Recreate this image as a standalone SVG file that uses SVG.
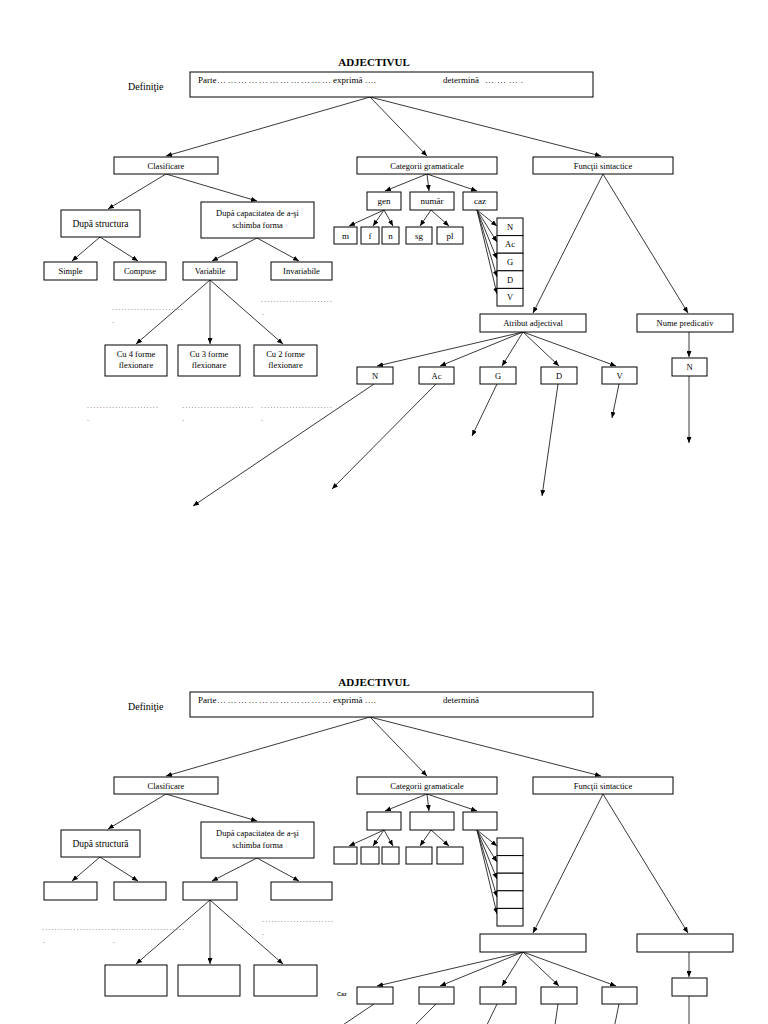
<svg xmlns="http://www.w3.org/2000/svg" width="768" height="1024" viewBox="0 0 768 1024">
<defs>
<style>
.b{fill:#fff;stroke:#000;stroke-width:1}
.t{font-family:"Liberation Serif","Times New Roman",serif;font-size:8.5px;fill:#000;text-anchor:middle}
.s{font-size:9px}
.m{font-size:9.5px}
.l{font-family:"Liberation Serif","Times New Roman",serif;font-size:9px;fill:#000}
.h{font-family:"Liberation Serif","Times New Roman",serif;font-size:11px;font-weight:bold;fill:#000;text-anchor:middle}
.dt{font-family:"Liberation Serif","Times New Roman",serif;font-size:8px;fill:#666}
.cz{font-family:"Liberation Sans",Arial,sans-serif;font-size:5.5px;font-weight:bold;fill:#333}
.c{stroke:#222;stroke-width:0.9;fill:none;marker-end:url(#ah)}
</style>
<marker id="ah" viewBox="0 0 12 10" refX="12" refY="5" markerWidth="6" markerHeight="5" markerUnits="userSpaceOnUse" orient="auto">
<path d="M0,0 L12,5 L0,10 z" fill="#000"/>
</marker>
</defs>
<rect width="768" height="1024" fill="#fff"/>

<!-- ========== TOP HALF ========== -->
<g id="connectors-top">
<path class="c" d="M370,97 L166,156"/>
<path class="c" d="M370,97 L427,156"/>
<path class="c" d="M370,97 L601,156"/>
<path class="c" d="M166,174 L108,209"/>
<path class="c" d="M166,174 L257,201"/>
<path class="c" d="M100,237 L72,261"/>
<path class="c" d="M100,237 L138,261"/>
<path class="c" d="M257,238 L212,261"/>
<path class="c" d="M257,238 L299,261"/>
<path class="c" d="M210,280 L136,344"/>
<path class="c" d="M210,280 L210,344"/>
<path class="c" d="M210,280 L283,344"/>
<path class="c" d="M427,174 L385,191"/>
<path class="c" d="M427,174 L429,191"/>
<path class="c" d="M427,174 L477,191"/>
<path class="c" d="M384,210 L349,226"/>
<path class="c" d="M384,210 L373,226"/>
<path class="c" d="M384,210 L393,226"/>
<path class="c" d="M431,210 L420,226"/>
<path class="c" d="M431,210 L449,226"/>
<path class="c" d="M477,210 L497,226"/>
<path class="c" d="M477,210 L497,242"/>
<path class="c" d="M477,210 L497,259"/>
<path class="c" d="M477,210 L497,277"/>
<path class="c" d="M477,210 L497,294"/>
<path class="c" d="M603,174 L533,313"/>
<path class="c" d="M603,174 L688,313"/>
<path class="c" d="M523,332 L377,366"/>
<path class="c" d="M523,332 L440,366"/>
<path class="c" d="M523,332 L502,366"/>
<path class="c" d="M523,332 L559,366"/>
<path class="c" d="M523,332 L616,366"/>
<path class="c" d="M689,332 L689,357"/>
<path class="c" d="M374,384 L193,506"/>
<path class="c" d="M436,384 L332,489"/>
<path class="c" d="M497,384 L472,436"/>
<path class="c" d="M558,384 L542,496"/>
<path class="c" d="M619,384 L612,418"/>
<path class="c" d="M689,376 L689,443"/>
</g>

<g id="title-top"><text class="h" x="374" y="66">ADJECTIVUL</text></g>
<g id="definitie-top"><text class="l" x="128" y="90" style="font-size:10px">Definiţie</text></g>
<g id="def-box-top">
<rect class="b" x="190" y="72" width="403" height="25"/>
<text class="l" x="198" y="83">Parte</text>
<text class="l" x="217" y="83" textLength="114" lengthAdjust="spacing">……………………………</text>
<text class="l" x="333" y="83">exprimă ….</text>
<text class="l" x="443" y="83">determină</text>
<text class="l" x="485" y="83" textLength="38" lengthAdjust="spacing">……….</text>
</g>
<g id="clasificare-top"><rect class="b" x="114" y="157" width="104" height="17"/><text class="t" x="166" y="168.5">Clasificare</text></g>
<g id="categorii-top"><rect class="b" x="357" y="157" width="140" height="17"/><text class="t" x="427" y="168.5">Categorii gramaticale</text></g>
<g id="functii-top"><rect class="b" x="533" y="157" width="140" height="17"/><text class="t" x="603" y="168.5">Funcţii sintactice</text></g>
<g id="structura-top"><rect class="b" x="61" y="210" width="79" height="27"/><text class="t m" x="100.5" y="226.5">După structura</text></g>
<g id="capacitatea-top"><rect class="b" x="201" y="202" width="113" height="36"/><text class="t" x="257.5" y="216">După capacitatea de a-şi</text><text class="t" x="257.5" y="228">schimba forma</text></g>
<g id="simple-top"><rect class="b" x="44" y="262" width="53" height="18"/><text class="t" x="70.5" y="274">Simple</text></g>
<g id="compuse-top"><rect class="b" x="114" y="262" width="52" height="18"/><text class="t" x="140" y="274">Compuse</text></g>
<g id="variabile-top"><rect class="b" x="183" y="262" width="54" height="18"/><text class="t" x="210" y="274">Variabile</text></g>
<g id="invariabile-top"><rect class="b" x="271" y="262" width="61" height="18"/><text class="t" x="301.5" y="274">Invariabile</text></g>
<g id="cu4-top"><rect class="b" x="105" y="345" width="62" height="31"/><text class="t" x="136" y="357">Cu 4 forme</text><text class="t" x="136" y="368">flexionare</text></g>
<g id="cu3-top"><rect class="b" x="178" y="345" width="62" height="31"/><text class="t" x="209" y="357">Cu 3 forme</text><text class="t" x="209" y="368">flexionare</text></g>
<g id="cu2-top"><rect class="b" x="254" y="345" width="63" height="31"/><text class="t" x="285.5" y="357">Cu 2 forme</text><text class="t" x="285.5" y="368">flexionare</text></g>
<g id="gen-top"><rect class="b" x="367" y="192" width="34" height="18"/><text class="t s" x="384" y="204">gen</text></g>
<g id="numar-top"><rect class="b" x="410" y="192" width="44" height="18"/><text class="t s" x="432" y="204">număr</text></g>
<g id="caz-top"><rect class="b" x="463" y="192" width="34" height="18"/><text class="t s" x="480" y="204">caz</text></g>
<g id="m-top"><rect class="b" x="334" y="227" width="23" height="17"/><text class="t s" x="345.5" y="239">m</text></g>
<g id="f-top"><rect class="b" x="361" y="227" width="18" height="17"/><text class="t s" x="370" y="239">f</text></g>
<g id="n-top"><rect class="b" x="382" y="227" width="17" height="17"/><text class="t s" x="390.5" y="239">n</text></g>
<g id="sg-top"><rect class="b" x="406" y="227" width="26" height="17"/><text class="t s" x="419" y="239">sg</text></g>
<g id="pl-top"><rect class="b" x="437" y="227" width="26" height="17"/><text class="t s" x="450" y="239">pl</text></g>
<g id="stack-top">
<rect class="b" x="497" y="218" width="26" height="17.6"/><text class="t" x="510" y="229.8">N</text>
<rect class="b" x="497" y="235.6" width="26" height="17.6"/><text class="t" x="510" y="247.4">Ac</text>
<rect class="b" x="497" y="253.2" width="26" height="17.6"/><text class="t" x="510" y="265">G</text>
<rect class="b" x="497" y="270.8" width="26" height="17.6"/><text class="t" x="510" y="282.6">D</text>
<rect class="b" x="497" y="288.4" width="26" height="17.6"/><text class="t" x="510" y="300.2">V</text>
</g>
<g id="atribut-top"><rect class="b" x="480" y="314" width="106" height="18"/><text class="t" x="533" y="326">Atribut adjectival</text></g>
<g id="nume-top"><rect class="b" x="637" y="314" width="96" height="18"/><text class="t" x="685" y="326">Nume predicativ</text></g>
<g id="case-n-top"><rect class="b" x="357" y="367" width="36" height="17"/><text class="t" x="375" y="379">N</text></g>
<g id="case-ac-top"><rect class="b" x="419" y="367" width="35" height="17"/><text class="t" x="436.5" y="379">Ac</text></g>
<g id="case-g-top"><rect class="b" x="480" y="367" width="36" height="17"/><text class="t" x="498" y="379">G</text></g>
<g id="case-d-top"><rect class="b" x="541" y="367" width="36" height="17"/><text class="t" x="559" y="379">D</text></g>
<g id="case-v-top"><rect class="b" x="602" y="367" width="35" height="17"/><text class="t" x="619.5" y="379">V</text></g>
<g id="pred-n-top"><rect class="b" x="672" y="358" width="35" height="18"/><text class="t" x="689.5" y="370">N</text></g>
<g id="dots-top">
<text class="dt" x="112" y="309.5" textLength="71" lengthAdjust="spacing">.......................</text><text class="dt" x="112" y="323">.</text>
<text class="dt" x="261" y="301.5" textLength="71" lengthAdjust="spacing">.......................</text><text class="dt" x="262" y="315">.</text>
<text class="dt" x="87" y="407.5" textLength="71" lengthAdjust="spacing">.......................</text><text class="dt" x="87" y="421">.</text>
<text class="dt" x="182" y="407.5" textLength="71" lengthAdjust="spacing">.......................</text><text class="dt" x="182" y="421">.</text>
<text class="dt" x="261" y="407.5" textLength="71" lengthAdjust="spacing">.......................</text><text class="dt" x="261" y="421">.</text>
</g>

<!-- ========== BOTTOM HALF ========== -->
<g id="connectors-bottom" transform="translate(0,620)">
<path class="c" d="M370,97 L166,156"/>
<path class="c" d="M370,97 L427,156"/>
<path class="c" d="M370,97 L601,156"/>
<path class="c" d="M166,174 L108,209"/>
<path class="c" d="M166,174 L257,201"/>
<path class="c" d="M100,237 L72,261"/>
<path class="c" d="M100,237 L138,261"/>
<path class="c" d="M257,238 L212,261"/>
<path class="c" d="M257,238 L299,261"/>
<path class="c" d="M210,280 L136,344"/>
<path class="c" d="M210,280 L210,344"/>
<path class="c" d="M210,280 L283,344"/>
<path class="c" d="M427,174 L385,191"/>
<path class="c" d="M427,174 L429,191"/>
<path class="c" d="M427,174 L477,191"/>
<path class="c" d="M384,210 L349,226"/>
<path class="c" d="M384,210 L373,226"/>
<path class="c" d="M384,210 L393,226"/>
<path class="c" d="M431,210 L420,226"/>
<path class="c" d="M431,210 L449,226"/>
<path class="c" d="M477,210 L497,226"/>
<path class="c" d="M477,210 L497,242"/>
<path class="c" d="M477,210 L497,259"/>
<path class="c" d="M477,210 L497,277"/>
<path class="c" d="M477,210 L497,294"/>
<path class="c" d="M603,174 L533,313"/>
<path class="c" d="M603,174 L688,313"/>
<path class="c" d="M523,332 L377,366"/>
<path class="c" d="M523,332 L440,366"/>
<path class="c" d="M523,332 L502,366"/>
<path class="c" d="M523,332 L559,366"/>
<path class="c" d="M523,332 L616,366"/>
<path class="c" d="M689,332 L689,357"/>
<path class="c" d="M374,384 L193,506"/>
<path class="c" d="M436,384 L332,489"/>
<path class="c" d="M497,384 L472,436"/>
<path class="c" d="M558,384 L542,496"/>
<path class="c" d="M619,384 L612,418"/>
<path class="c" d="M689,376 L689,443"/>
</g>

<g id="title-bottom"><text class="h" x="374" y="686">ADJECTIVUL</text></g>
<g id="definitie-bottom"><text class="l" x="128" y="710" style="font-size:10px">Definiţie</text></g>
<g id="def-box-bottom">
<rect class="b" x="190" y="692" width="403" height="25"/>
<text class="l" x="198" y="703">Parte</text>
<text class="l" x="217" y="703" textLength="114" lengthAdjust="spacing">……………………………</text>
<text class="l" x="333" y="703">exprimă ….</text>
<text class="l" x="443" y="703">determină</text>
</g>
<g id="clasificare-bottom"><rect class="b" x="114" y="777" width="104" height="17"/><text class="t" x="166" y="788.5">Clasificare</text></g>
<g id="categorii-bottom"><rect class="b" x="357" y="777" width="140" height="17"/><text class="t" x="427" y="788.5">Categorii gramaticale</text></g>
<g id="functii-bottom"><rect class="b" x="533" y="777" width="140" height="17"/><text class="t" x="603" y="788.5">Funcţii sintactice</text></g>
<g id="structura-bottom"><rect class="b" x="61" y="830" width="79" height="27"/><text class="t m" x="100.5" y="846.5">După structură</text></g>
<g id="capacitatea-bottom"><rect class="b" x="201" y="822" width="113" height="36"/><text class="t" x="257.5" y="836">După capacitatea de a-şi</text><text class="t" x="257.5" y="848">schimba forma</text></g>
<g id="simple-bottom"><rect class="b" x="44" y="882" width="53" height="18"/></g>
<g id="compuse-bottom"><rect class="b" x="114" y="882" width="52" height="18"/></g>
<g id="variabile-bottom"><rect class="b" x="183" y="882" width="54" height="18"/></g>
<g id="invariabile-bottom"><rect class="b" x="271" y="882" width="61" height="18"/></g>
<g id="cu4-bottom"><rect class="b" x="105" y="965" width="62" height="31"/></g>
<g id="cu3-bottom"><rect class="b" x="178" y="965" width="62" height="31"/></g>
<g id="cu2-bottom"><rect class="b" x="254" y="965" width="63" height="31"/></g>
<g id="gen-bottom"><rect class="b" x="367" y="812" width="34" height="18"/></g>
<g id="numar-bottom"><rect class="b" x="410" y="812" width="44" height="18"/></g>
<g id="caz-bottom"><rect class="b" x="463" y="812" width="34" height="18"/></g>
<g id="m-bottom"><rect class="b" x="334" y="847" width="23" height="17"/></g>
<g id="f-bottom"><rect class="b" x="361" y="847" width="18" height="17"/></g>
<g id="n-bottom"><rect class="b" x="382" y="847" width="17" height="17"/></g>
<g id="sg-bottom"><rect class="b" x="406" y="847" width="26" height="17"/></g>
<g id="pl-bottom"><rect class="b" x="437" y="847" width="26" height="17"/></g>
<g id="stack-bottom">
<rect class="b" x="497" y="838" width="26" height="17.6"/>
<rect class="b" x="497" y="855.6" width="26" height="17.6"/>
<rect class="b" x="497" y="873.2" width="26" height="17.6"/>
<rect class="b" x="497" y="890.8" width="26" height="17.6"/>
<rect class="b" x="497" y="908.4" width="26" height="17.6"/>
</g>
<g id="atribut-bottom"><rect class="b" x="480" y="934" width="106" height="18"/></g>
<g id="nume-bottom"><rect class="b" x="637" y="934" width="96" height="18"/></g>
<g id="caz-label-bottom"><text class="cz" x="337" y="996">Caz</text></g>
<g id="case-n-bottom"><rect class="b" x="357" y="987" width="36" height="17"/></g>
<g id="case-ac-bottom"><rect class="b" x="419" y="987" width="35" height="17"/></g>
<g id="case-g-bottom"><rect class="b" x="480" y="987" width="36" height="17"/></g>
<g id="case-d-bottom"><rect class="b" x="541" y="987" width="36" height="17"/></g>
<g id="case-v-bottom"><rect class="b" x="602" y="987" width="35" height="17"/></g>
<g id="pred-n-bottom"><rect class="b" x="672" y="978" width="35" height="18"/></g>
<g id="dots-bottom">
<text class="dt" x="42" y="929.5" textLength="71" lengthAdjust="spacing">.......................</text><text class="dt" x="43" y="943">.</text>
<text class="dt" x="113" y="929.5" textLength="71" lengthAdjust="spacing">.......................</text><text class="dt" x="113" y="943">.</text>
<text class="dt" x="262" y="921.5" textLength="71" lengthAdjust="spacing">.......................</text><text class="dt" x="262" y="935">.</text>
</g>
</svg>
